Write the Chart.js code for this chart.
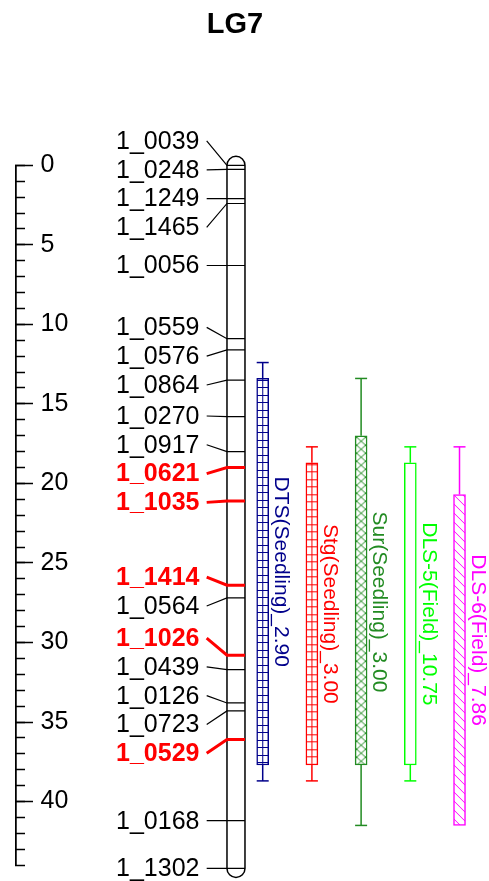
<!DOCTYPE html>
<html>
<head>
<meta charset="utf-8">
<script src="https://cdn.jsdelivr.net/npm/chart.js@4.4.1/dist/chart.umd.min.js"></script>
<style>
html,body{margin:0;padding:0;background:#fff;}
#wrap{width:489px;height:881px;position:relative;}
</style>
</head>
<body>
<div id="wrap"><canvas id="c"></canvas></div>
<script>
// ---------- data ----------
const chartTitle = 'LG7';
const markerNames = ['1_0039','1_0248','1_1249','1_1465','1_0056','1_0559','1_0576','1_0864','1_0270','1_0917','1_0621','1_1035','1_1414','1_0564','1_1026','1_0439','1_0126','1_0723','1_0529','1_0168','1_1302'];
const markerPos   = [0.0, 0.25, 2.1, 2.4, 6.3, 10.9, 11.6, 13.5, 15.8, 18.0, 19.0, 21.1, 26.4, 27.2, 30.8, 31.7, 33.8, 34.3, 36.1, 41.2, 44.2];
const highlightedMarkers = ['1_0621','1_1035','1_1414','1_1026','1_0529'];

const qtlNames      = ['DTS(Seedling)_2.90','Stg(Seedling)_3.00','Sur(Seedling)_3.00','DLS-5(Field)_10.75','DLS-6(Field)_7.86'];
const qtlOuterStart = [12.4, 17.7, 13.4, 17.7, 17.7];
const qtlInnerStart = [13.4, 18.7, 17.0, 18.7, 20.7];
const qtlInnerEnd   = [37.7, 37.7, 37.7, 37.7, 41.5];
const qtlOuterEnd   = [38.7, 38.7, 41.5, 38.7, 42.0];
const qtlColors     = ['#00008B','#FF0000','#228B22','#00FF00','#FF00FF'];
const qtlFills      = ['grid','grid','cross','none','diag'];

const axisMin = 0, axisMax = 44, majorStep = 5, minorStep = 1;

// ---------- layout / style constants ----------
const FONT = '"Liberation Sans", Arial, Helvetica, sans-serif';
const CHROM_X = -0.543;      // chromosome column on the x scale
const CHROM_HALF_W = 9;
const BAR_W = 12;
const BAR_BORDER = 1.5;
const LABEL_GAP = 28.8;

Chart.defaults.font.family = FONT;

function makePattern(kind, color) {
  if (kind === 'none') return '#ffffff';
  const c = document.createElement('canvas');
  const g = c.getContext('2d');
  let w, h;
  if (kind === 'grid') { w = 9; h = 15; }
  else if (kind === 'cross') { w = 9; h = 8; }
  else { w = 9; h = 9; }
  c.width = w; c.height = h;
  g.fillStyle = '#ffffff'; g.fillRect(0, 0, w, h);
  g.strokeStyle = color; g.lineWidth = 1;
  g.beginPath();
  if (kind === 'grid') {
    g.moveTo(0, 0.5); g.lineTo(w, 0.5);
    g.moveTo(0, 7.5); g.lineTo(w, 7.5);
    g.moveTo(4.5, 0); g.lineTo(4.5, h);
  } else if (kind === 'cross') {
    g.moveTo(0, 0); g.lineTo(w, h);
    g.moveTo(w, 0); g.lineTo(0, h);
  } else {
    g.moveTo(-1, -1); g.lineTo(w + 1, h + 1);
    g.moveTo(-1, h - 1); g.lineTo(1, h + 1);
    g.moveTo(w - 1, -1); g.lineTo(w + 1, 1);
  }
  g.stroke();
  return g.createPattern(c, 'repeat');
}
const patterns = qtlFills.map((k, i) => makePattern(k, qtlColors[i]));

function spreadLabels(ys, gap) {
  let clusters = ys.map(v => ({n: 1, sum: v}));
  const topOf = c => c.sum / c.n - (c.n - 1) * gap / 2;
  let changed = true;
  while (changed) {
    changed = false;
    for (let i = 0; i < clusters.length - 1; i++) {
      const a = clusters[i], b = clusters[i + 1];
      const aBottom = topOf(a) + (a.n - 1) * gap;
      if (topOf(b) - aBottom < gap) {
        a.n += b.n; a.sum += b.sum;
        clusters.splice(i + 1, 1);
        changed = true;
        break;
      }
    }
  }
  const out = [];
  clusters.forEach(c => { const t = topOf(c); for (let k = 0; k < c.n; k++) out.push(t + k * gap); });
  return out;
}

const mapPlugin = {
  id: 'linkageMap',
  beforeDatasetsDraw(chart) {
    const {x, y} = chart.scales;
    patterns.forEach((p, i) => {
      if (p && p.setTransform) {
        const left = x.getPixelForValue(i) - BAR_W / 2 + BAR_BORDER;
        const top = y.getPixelForValue(qtlInnerStart[i]) + BAR_BORDER;
        p.setTransform(new DOMMatrix().translate(left, top));
      }
    });
  },
  afterDatasetsDraw(chart) {
    const {ctx} = chart;
    const {x, y} = chart.scales;
    const cx = x.getPixelForValue(CHROM_X);
    const r = CHROM_HALF_W;
    const top = y.getPixelForValue(markerPos[0]);
    const bot = y.getPixelForValue(markerPos[markerPos.length - 1]);
    ctx.save();
    // chromosome
    ctx.lineWidth = 1.5; ctx.strokeStyle = '#000'; ctx.fillStyle = '#fff';
    ctx.beginPath();
    ctx.moveTo(cx - r, top);
    ctx.arc(cx, top, r, Math.PI, 0);
    ctx.lineTo(cx + r, bot);
    ctx.arc(cx, bot, r, 0, Math.PI);
    ctx.closePath();
    ctx.fill(); ctx.stroke();

    // markers
    const my = markerPos.map(v => y.getPixelForValue(v));
    const ly = spreadLabels(my, LABEL_GAP);
    markerNames.forEach((name, i) => {
      const hi = highlightedMarkers.includes(name);
      ctx.beginPath();
      ctx.strokeStyle = hi ? '#FF0000' : '#000';
      ctx.lineWidth = hi ? 3 : 1.2;
      ctx.moveTo(cx - 29.3, ly[i]);
      ctx.lineTo(cx - r, my[i]);
      ctx.lineTo(cx + r, my[i]);
      ctx.stroke();
      ctx.font = (hi ? 'bold ' : '') + '25px ' + FONT;
      ctx.fillStyle = hi ? '#FF0000' : '#000';
      ctx.textAlign = 'right';
      ctx.textBaseline = 'middle';
      ctx.fillText(name, cx - 36.5, ly[i] + 1);
    });

    // QTL labels
    qtlNames.forEach((name, i) => {
      const bx = x.getPixelForValue(i) + BAR_W / 2 + 6.3;
      const cy = (y.getPixelForValue(qtlOuterStart[i]) + y.getPixelForValue(qtlOuterEnd[i])) / 2;
      ctx.save();
      ctx.translate(bx, cy);
      ctx.rotate(Math.PI / 2);
      ctx.font = '21px ' + FONT;
      ctx.fillStyle = qtlColors[i];
      ctx.textAlign = 'center';
      ctx.textBaseline = 'alphabetic';
      ctx.fillText(name, 0, 0);
      ctx.restore();
    });
    ctx.restore();
  }
};

const datasets = [{
  type: 'bar',
  label: 'QTL intervals',
  data: qtlNames.map((n, i) => ({x: i, y: [qtlInnerStart[i], qtlInnerEnd[i]]})),
  backgroundColor: patterns,
  borderColor: qtlColors,
  borderWidth: BAR_BORDER,
  borderSkipped: false,
  barThickness: BAR_W,
  grouped: false,
  clip: false,
  xAxisID: 'x', yAxisID: 'y'
}];
qtlNames.forEach((n, i) => {
  datasets.push({
    type: 'line',
    label: n,
    data: [
      {x: i, y: qtlOuterStart[i]}, {x: i, y: qtlInnerStart[i]}, {x: i, y: null},
      {x: i, y: qtlInnerEnd[i]}, {x: i, y: qtlOuterEnd[i]}
    ],
    borderColor: qtlColors[i],
    borderWidth: 1.5,
    pointStyle: 'line',
    pointRadius: c => (c.dataIndex === 0 || c.dataIndex === 4) ? BAR_W / 2 : 0,
    pointHoverRadius: 0,
    pointBorderColor: qtlColors[i],
    pointBorderWidth: 1.5,
    spanGaps: false,
    fill: false,
    tension: 0,
    clip: false,
    xAxisID: 'x', yAxisID: 'y'
  });
});

const fitZero = s => { s.width = 0; s.paddingTop = 0; s.paddingBottom = 0; };

new Chart(document.getElementById('c'), {
  type: 'bar',
  data: {datasets},
  plugins: [mapPlugin],
  options: {
    responsive: true,
    maintainAspectRatio: false,
    devicePixelRatio: 1,
    animation: false,
    events: [],
    layout: {padding: {left: 16, right: 35, top: 0, bottom: 15.8}},
    plugins: {
      legend: {display: false},
      tooltip: {enabled: false},
      title: {
        display: true,
        text: chartTitle,
        color: '#000',
        font: {family: FONT, size: 29, weight: 'bold'},
        padding: {top: 7.6, bottom: 122.9}
      }
    },
    scales: {
      x: {type: 'linear', display: false, offset: false, grid: {offset: false}, min: -5.014, max: 3.888},
      y: {
        type: 'linear', position: 'left', reverse: true,
        min: axisMin, max: axisMax, weight: 1,
        afterFit: fitZero,
        border: {display: true, color: '#000', width: 1.5},
        grid: {drawOnChartArea: false, drawTicks: true, tickLength: -17, tickColor: '#000', tickWidth: 1.5},
        ticks: {
          stepSize: majorStep, includeBounds: false, autoSkip: false,
          mirror: true, padding: 24.5, color: '#000',
          font: {family: FONT, size: 25},
          callback: v => (v % majorStep === 0 ? String(v) : '')
        }
      },
      y2: {
        type: 'linear', position: 'left', reverse: true,
        min: axisMin, max: axisMax, weight: 0,
        afterFit: fitZero,
        border: {display: true, color: '#000', width: 1.5},
        grid: {drawOnChartArea: false, drawTicks: true, tickLength: -9, tickColor: '#000', tickWidth: 1.5},
        ticks: {stepSize: minorStep, autoSkip: false, display: false}
      }
    }
  }
});
</script>
</body>
</html>
